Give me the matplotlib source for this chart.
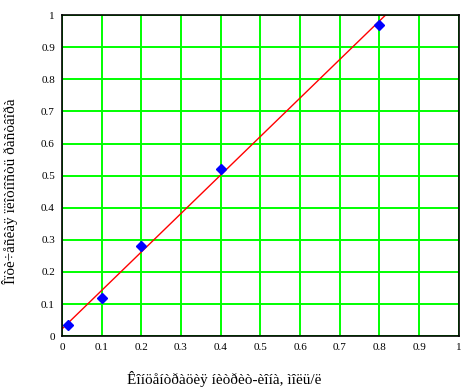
import matplotlib
matplotlib.use("Agg")
import matplotlib.pyplot as plt

conc = [0.015, 0.1, 0.2, 0.4, 0.8]
density = [0.035, 0.12, 0.28, 0.52, 0.97]
fit_x = [0.0, 0.815]
fit_y = [0.022, 1.0]
ticks = [0, 0.1, 0.2, 0.3, 0.4, 0.5, 0.6, 0.7, 0.8, 0.9, 1]
tick_labels = ["0", "0.1", "0.2", "0.3", "0.4", "0.5", "0.6", "0.7", "0.8", "0.9", "1"]
xlabel = "Êîíöåíòðàöèÿ íèòðèò-èîíà, ìîëü/ë"
ylabel = "Îïòè÷åñêàÿ ïëîòíîñòü ðàñòâîðà"

plt.rcParams['font.family'] = ['Liberation Serif', 'DejaVu Serif']

fig = plt.figure(figsize=(4.76, 3.89), dpi=100)
ax = fig.add_axes([0.130, 0.136, 0.834, 0.825])
ax.set_xlim(0, 1)
ax.set_ylim(0, 1)
ax.set_xticks(ticks)
ax.set_xticklabels(tick_labels)
ax.set_yticks(ticks)
ax.set_yticklabels(tick_labels)
ax.grid(True, color='#00ff00', linewidth=1.4)
ax.set_axisbelow(True)
ax.tick_params(length=0, labelsize=8, pad=5)
for s in ax.spines.values():
    s.set_color('black')
    s.set_linewidth(1.2)
    s.set_zorder(5)
ax.plot(fit_x, fit_y, color='red', linewidth=1.0, zorder=3)
ax.plot(conc, density, linestyle='none', marker='D', color='blue', markersize=4.8, zorder=4)
ax.set_xlabel(xlabel, fontsize=11)
ax.set_ylabel(ylabel, fontsize=11)
ax.xaxis.set_label_coords(0.41, -0.11)
ax.yaxis.set_label_coords(-0.11, 0.45)
fig.savefig("out.png", dpi=100)
